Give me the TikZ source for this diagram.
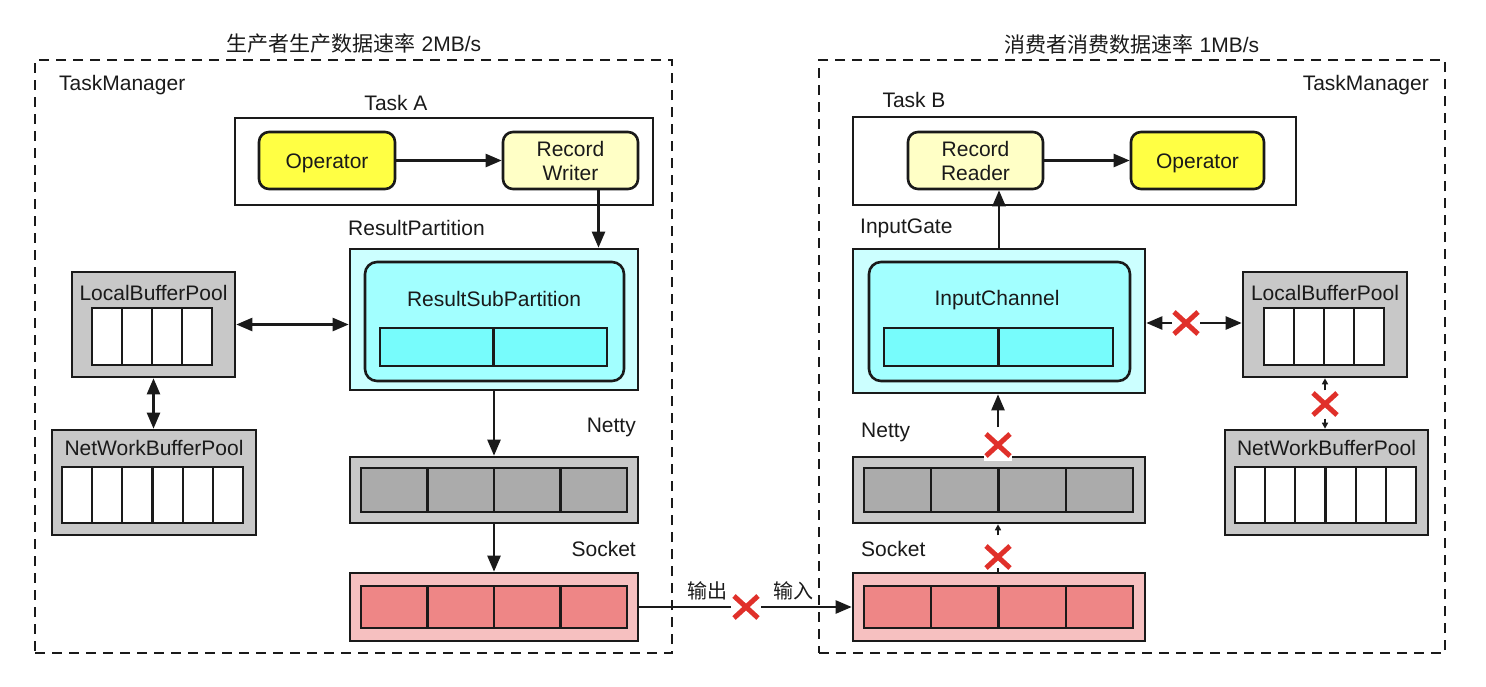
\documentclass[tikz,border=0pt]{standalone}
\usepackage{fontspec}
\setmainfont{Liberation Sans}
\newfontfamily\cjk{Noto Sans CJK SC}
\usetikzlibrary{arrows.meta,fit,calc}
\definecolor{opY}{HTML}{FFFF44}
\definecolor{rwY}{HTML}{FFFFC6}
\definecolor{cyA}{HTML}{CCFFFF}
\definecolor{cyB}{HTML}{A2FFFF}
\definecolor{cyC}{HTML}{77FCFC}
\definecolor{grA}{HTML}{C8C8C8}
\definecolor{grB}{HTML}{ABABAB}
\definecolor{pkA}{HTML}{F6C0C0}
\definecolor{pkB}{HTML}{EE8686}
\definecolor{xred}{HTML}{E0302A}
\definecolor{ink}{HTML}{1A1A1A}
\newcommand{\bufcells}[6]{%
  \draw[line width=2.2pt, fill=#6, draw=ink] (#1,#2) rectangle (#3,#4);
  \foreach \i in {1,...,#5} {%
    \pgfmathsetmacro\xx{#1+(#3-#1)*\i/#5}
    \draw[line width=2.2pt, draw=ink] (\xx,#2) -- (\xx,#4);
  }%
}
\begin{document}
\begin{tikzpicture}[x=1pt,y=-1pt,
  font=\fontsize{21}{24}\selectfont,
  dashbox/.style={draw=ink, line width=2.6pt, dash pattern=on 10pt off 7pt, inner sep=0pt},
  plainbox/.style={draw=ink, line width=2.6pt, inner sep=0pt},
  opbox/.style={plainbox, rounded corners=10pt, fill=opY},
  rwbox/.style={plainbox, rounded corners=10pt, fill=rwY},
  txt/.style={inner sep=0pt, text=ink},
  arr/.style={draw=ink, line width=2.4pt, -{Triangle[length=16pt,width=13pt]}},
  darr/.style={draw=ink, line width=2.4pt, {Triangle[length=16pt,width=13pt]}-{Triangle[length=16pt,width=13pt]}},
  sarr/.style={draw=ink, line width=1.6pt, -{Triangle[length=6pt,width=6pt]}},
  redx/.pic={\draw[xred, line width=5pt] (-12,-11) -- (12,11) (-12,11) -- (12,-11);}
]
\useasboundingbox (0,0) rectangle (1486,686);

% ---------- outer frames and titles ----------
\node[dashbox, fit={(35,60)(672,653)}] (dashL) {};
\node[dashbox, fit={(819,60)(1445,653)}] (dashR) {};
\node[txt] (titleL) at (354,44) {{\cjk 生产者生产数据速率} 2MB/s};
\node[txt] (titleR) at (1132,44) {{\cjk 消费者消费数据速率} 1MB/s};
\node[txt, anchor=west] (tmL) at (59,85) {TaskManager};
\node[txt, anchor=east] (tmR) at (1429,85) {TaskManager};

% ---------- left: producer ----------
\node[plainbox, fit={(235,118)(653,205)}] (taskA) {};
\node[txt] (taskAlbl) at (396,103) {Task A};
\node[opbox, fit={(259,132)(395,189)}] (opA) {};
\node[txt, yshift=-3pt] (opAlbl) at (opA.center) {Operator};
\node[rwbox, fit={(503,132)(638,189)}] (rw) {};
\node[txt, align=center] (rwlbl) at (rw.center) {Record\\Writer};

\node[plainbox, fill=cyA, fit={(350,249)(638,390)}] (rp) {};
\node[txt, anchor=west] (rplbl) at (348,228) {ResultPartition};
\node[plainbox, fill=cyB, rounded corners=12pt, fit={(365,262)(624,381)}] (rsp) {};
\node[txt] (rsplbl) at (494,299) {ResultSubPartition};
\bufcells{380}{328}{607}{366}{2}{cyC}

\node[plainbox, fill=grA, fit={(72,272)(235,377)}] (lbpL) {};
\node[txt] (lbpLlbl) at (153.5,293) {LocalBufferPool};
\bufcells{92}{308}{212}{365}{4}{white}

\node[plainbox, fill=grA, fit={(52,430)(256,535)}] (nbpL) {};
\node[txt] (nbpLlbl) at (154,448) {NetWorkBufferPool};
\bufcells{62}{467}{243}{523}{6}{white}

\node[plainbox, fill=grA, fit={(350,457)(638,523)}] (nettyL) {};
\node[txt, anchor=east] (nettyLlbl) at (636,427) {Netty};
\bufcells{361}{468}{627}{512}{4}{grB}

\node[plainbox, fill=pkA, fit={(350,573)(638,641)}] (sockL) {};
\node[txt, anchor=east] (sockLlbl) at (636,549) {Socket};
\bufcells{361}{586}{627}{628}{4}{pkB}

% ---------- right: consumer ----------
\node[plainbox, fit={(853,117)(1296,205)}] (taskB) {};
\node[txt] (taskBlbl) at (914,100) {Task B};
\node[rwbox, fit={(908,132)(1043,189)}] (rr) {};
\node[txt, align=center] (rrlbl) at (rr.center) {Record\\Reader};
\node[opbox, fit={(1131,132)(1264,189)}] (opB) {};
\node[txt, yshift=-3pt] (opBlbl) at (opB.center) {Operator};

\node[plainbox, fill=cyA, fit={(853,249)(1145,393)}] (ig) {};
\node[txt, anchor=west] (iglbl) at (860,228) {InputGate};
\node[plainbox, fill=cyB, rounded corners=12pt, fit={(869,262)(1130,381)}] (ic) {};
\node[txt] (iclbl) at (997,300) {InputChannel};
\bufcells{884}{328}{1113}{366}{2}{cyC}

\node[plainbox, fill=grA, fit={(1243,272)(1407,377)}] (lbpR) {};
\node[txt] (lbpRlbl) at (1325,293) {LocalBufferPool};
\bufcells{1264}{308}{1384}{365}{4}{white}

\node[plainbox, fill=grA, fit={(1225,430)(1428,535)}] (nbpR) {};
\node[txt] (nbpRlbl) at (1326.5,448) {NetWorkBufferPool};
\bufcells{1235}{467}{1416}{523}{6}{white}

\node[plainbox, fill=grA, fit={(853,457)(1145,523)}] (nettyR) {};
\node[txt, anchor=west] (nettyRlbl) at (861,432) {Netty};
\bufcells{864}{468}{1133}{512}{4}{grB}

\node[plainbox, fill=pkA, fit={(853,573)(1145,641)}] (sockR) {};
\node[txt, anchor=west] (sockRlbl) at (861,549) {Socket};
\bufcells{864}{586}{1133}{628}{4}{pkB}

% ---------- connectors: left ----------
\draw[arr] (opA.east) -- (rw.west);
\draw[arr] ([xshift=28pt]rw.south) -- ([xshift=28pt]rw.south |- rp.north);
\draw[darr] (lbpL.east) -- (lbpL.east -| rp.west);
\draw[darr] (lbpL.south) -- (lbpL.south |- nbpL.north);
\draw[arr] (rp.south) -- (nettyL.north);
\draw[arr] (nettyL.south) -- (sockL.north);

% ---------- socket to socket ----------
\coordinate (xo) at (746,607);
\draw[draw=ink, line width=2.4pt] (sockL.east) -- ([xshift=-15pt]xo);
\draw[arr] ([xshift=15pt]xo) -- (sockR.west |- xo);
\pic at (xo) {redx};
\node[txt, font=\cjk\fontsize{20}{24}\selectfont] (outlbl) at (707,591) {输出};
\node[txt, font=\cjk\fontsize{20}{24}\selectfont] (inlbl) at (793,591) {输入};

% ---------- connectors: right ----------
\draw[arr] (rr.east) -- (opB.west);
\draw[arr] (ig.north) -- (ig.north |- rr.south);

\coordinate (x1) at (1186,323);
\draw[arr] ([xshift=-14pt]x1) -- (x1 -| ig.east);
\draw[arr] ([xshift=14pt]x1) -- (x1 -| lbpR.west);
\pic at (x1) {redx};

\coordinate (x2) at (1325,404);
\draw[sarr] ([yshift=-12pt]lbpR.south) -- (lbpR.south);
\draw[sarr] ([yshift=10pt]nbpR.north -| x2) -- (nbpR.north -| x2);
\pic at (x2) {redx};

\coordinate (x3) at (998,445);
\fill[white] (984,432) rectangle (1012,461);
\draw[arr] ([yshift=18pt]x3) -- (x3 |- ig.south);
\pic at (x3) {redx};

\coordinate (x4) at (998,557);
\draw[sarr] ([yshift=-11pt]nettyR.south -| x4) -- (nettyR.south -| x4);
\draw[draw=ink, line width=1.4pt] (sockR.north -| x4) -- ([yshift=4pt]sockR.north -| x4);
\pic at (x4) {redx};
\end{tikzpicture}
\end{document}
